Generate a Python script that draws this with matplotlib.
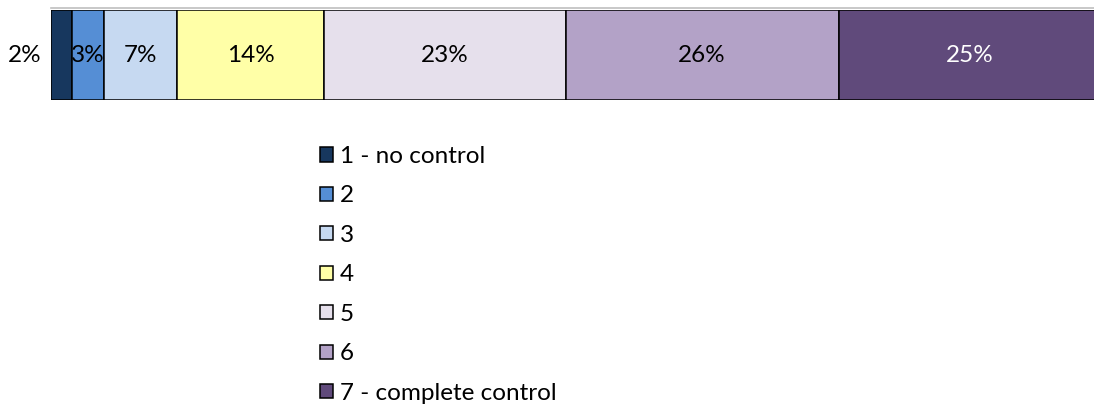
import matplotlib.pyplot as plt
from matplotlib.patches import Patch

plt.rcParams['font.family'] = ['Lato', 'DejaVu Sans']

# share of answers per rating, 1 (no control) .. 7 (complete control)
categories = ['1 - no control', '2', '3', '4', '5', '6', '7 - complete control']
shares = [2, 3, 7, 14, 23, 26, 25]
colors = ['#17375E', '#558ED5', '#C6D9F1', '#FFFFA7', '#E6E0EC', '#B3A2C7', '#604A7B']
text_colors = ['black'] * 6 + ['white']

W, H = 1094, 405
fs = 17.5
fig = plt.figure(figsize=(W / 100, H / 100), dpi=100)
ax = fig.add_axes([51 / W, 1 - 100 / H, 1050 / W, 90 / H])

left = 0
for share, color, tc in zip(shares, colors, text_colors):
    ax.barh(0, share, left=left, height=1, color=color, edgecolor='black', linewidth=1.1)
    if share < 3:
        # too narrow, put the label left of the bar
        ax.annotate(f'{share}%', (0, 0), xytext=(-7, 0), textcoords='offset points',
                    ha='right', va='center', fontsize=fs, color='black')
    else:
        ax.text(left + share / 2, 0, f'{share}%', ha='center', va='center',
                fontsize=fs, color=tc)
    left += share

ax.axhline(0.52, color='#BFBFBF', linewidth=1.2, clip_on=False)
ax.set_xlim(0, 100)
ax.set_ylim(-0.5, 0.5)
ax.axis('off')

handles = [Patch(facecolor=c, edgecolor='black', linewidth=1.1) for c in colors]
fig.legend(handles, categories, loc='upper left', bbox_to_anchor=(320 / W, 1 - 146 / H),
           frameon=False, fontsize=fs, handlelength=0.53, handleheight=0.53,
           handletextpad=0.28, labelspacing=0.76, borderpad=0, borderaxespad=0)

fig.savefig('out.png', dpi=100)
